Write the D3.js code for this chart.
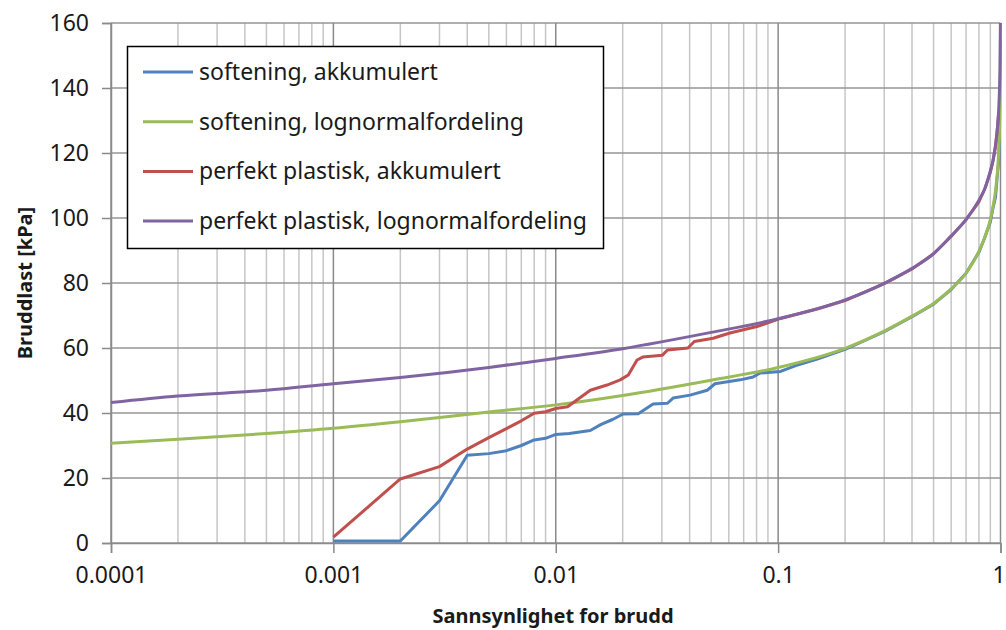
<!DOCTYPE html>
<html>
<head>
<meta charset="utf-8">
<script src="https://cdn.jsdelivr.net/npm/d3@7"></script>
<style>
  html, body { margin: 0; padding: 0; background: #fff; }
  svg { display: block; }
  text { font-family: "Noto Sans", "DejaVu Sans", sans-serif; fill: #1a1a1a; }
</style>
</head>
<body>
<svg id="chart" width="1006" height="630"></svg>
<script>
// Failure probability (x) against failure load in kPa (y)
const softAkkP = [0.001, 0.002, 0.003, 0.004, 0.005, 0.006, 0.007, 0.008, 0.009, 0.01, 0.0115, 0.0143, 0.016, 0.018, 0.0201, 0.0235, 0.0274, 0.0318, 0.0337, 0.0402, 0.048, 0.052, 0.0675, 0.0773, 0.083, 0.1025, 0.12, 0.15, 0.2, 0.3, 0.4, 0.5, 0.6, 0.7, 0.8, 0.85, 0.9, 0.925, 0.95, 0.97, 0.98, 0.99];
const softAkkV = [0.6, 0.6, 13, 27, 27.5, 28.4, 30, 31.7, 32.2, 33.4, 33.7, 34.6, 36.5, 38, 39.7, 39.8, 42.8, 43, 44.6, 45.5, 47, 49, 50.2, 51.1, 52.3, 52.8, 54.6, 56.6, 59.6, 65, 69.6, 73.5, 78, 83, 89.5, 94, 98.8, 103, 106.5, 114, 117, 124];

const softLogP = [0.0001, 0.0002, 0.0005, 0.001, 0.002, 0.005, 0.01, 0.02, 0.05, 0.1, 0.2, 0.3, 0.4, 0.5, 0.6, 0.7, 0.8, 0.85, 0.9, 0.925, 0.95, 0.97, 0.98, 0.99, 0.995, 0.999, 0.9993];
const softLogV = [30.7, 31.9, 33.7, 35.3, 37.3, 40.3, 42.5, 45.4, 50.1, 54.0, 59.9, 65.2, 69.8, 73.7, 78.2, 83.0, 89.8, 94.1, 99.5, 103.4, 108.5, 114.7, 119.5, 127, 135, 151, 155];

const plastAkkP = [0.001, 0.002, 0.003, 0.004, 0.005, 0.006, 0.007, 0.008, 0.009, 0.01, 0.0113, 0.0143, 0.017, 0.0195, 0.0212, 0.0232, 0.0246, 0.0302, 0.0318, 0.0393, 0.042, 0.051, 0.0607, 0.0803, 0.1026, 0.15, 0.2, 0.3, 0.4, 0.5, 0.6, 0.7, 0.8, 0.85, 0.9, 0.925, 0.95, 0.97, 0.98];
const plastAkkV = [1.8, 19.7, 23.5, 28.9, 32.4, 35.2, 37.6, 39.9, 40.4, 41.4, 41.9, 47, 48.6, 50.2, 51.7, 56.3, 57.2, 57.8, 59.4, 60, 62, 63, 64.6, 66.6, 69.1, 72, 74.6, 79.8, 84.3, 89, 94.3, 99.5, 105, 109, 114, 117.5, 122, 128, 132];

const plastLogP = [0.0001, 0.0002, 0.0005, 0.001, 0.002, 0.005, 0.01, 0.02, 0.05, 0.1, 0.2, 0.3, 0.4, 0.5, 0.6, 0.7, 0.8, 0.85, 0.9, 0.925, 0.95, 0.97, 0.98, 0.99, 0.995, 0.999];
const plastLogV = [43.2, 45.2, 47.0, 49.0, 50.9, 54.0, 56.8, 59.8, 64.8, 69.0, 74.8, 79.9, 84.5, 89.0, 94.5, 99.5, 105.5, 109.0, 114.5, 117.7, 122.5, 128.2, 132.5, 140, 147, 160];

const seriesNames = ["softening, akkumulert", "softening, lognormalfordeling", "perfekt plastisk, akkumulert", "perfekt plastisk, lognormalfordeling"];
const seriesColors = ["#4F81BD", "#9BBB59", "#C0504D", "#8064A2"];

const xTicks = [0.0001, 0.001, 0.01, 0.1, 1];
const xTickLabels = ["0.0001", "0.001", "0.01", "0.1", "1"];
const yTicks = [0, 20, 40, 60, 80, 100, 120, 140, 160];

const xTitle = "Sannsynlighet for brudd";
const yTitle = "Bruddlast [kPa]";

// Empirical (accumulated) series are drawn point to point; fitted distributions are smoothed
const series = [
  { name: seriesNames[0], color: seriesColors[0], p: softAkkP, v: softAkkV, smooth: false },
  { name: seriesNames[1], color: seriesColors[1], p: softLogP, v: softLogV, smooth: true },
  { name: seriesNames[2], color: seriesColors[2], p: plastAkkP, v: plastAkkV, smooth: false },
  { name: seriesNames[3], color: seriesColors[3], p: plastLogP, v: plastLogV, smooth: true }
];

const svg = d3.select("#chart");
const plot = { left: 111, right: 1000.5, top: 23, bottom: 543 };

const x = d3.scaleLog().domain([0.0001, 1]).range([plot.left, plot.right]);
const y = d3.scaleLinear().domain([0, 160]).range([plot.bottom, plot.top]);

const grid = svg.append("g");

// Minor vertical gridlines (2..9 within each decade)
const minor = [];
for (let d = -4; d < 0; d++) {
  for (let k = 2; k <= 9; k++) minor.push(k * Math.pow(10, d));
}
grid.selectAll("line.minor").data(minor).join("line")
  .attr("x1", d => x(d)).attr("x2", d => x(d))
  .attr("y1", plot.top).attr("y2", plot.bottom)
  .attr("stroke", "#c6c6c6").attr("stroke-width", 1.5);

// Horizontal gridlines
grid.selectAll("line.h").data(yTicks).join("line")
  .attr("x1", plot.left).attr("x2", plot.right)
  .attr("y1", d => y(d)).attr("y2", d => y(d))
  .attr("stroke", "#969696").attr("stroke-width", 1.5);

// Decade gridlines
grid.selectAll("line.major").data(xTicks).join("line")
  .attr("x1", d => x(d)).attr("x2", d => x(d))
  .attr("y1", plot.top).attr("y2", plot.bottom)
  .attr("stroke", "#8a8a8a").attr("stroke-width", 1.5);

// Y axis
const yAxis = d3.axisLeft(y).tickValues(yTicks).tickSize(9).tickPadding(13).tickFormat(d3.format("d"));
const gy = svg.append("g").attr("transform", `translate(${plot.left},0)`).call(yAxis);
gy.select(".domain").attr("stroke", "#8a8a8a").attr("stroke-width", 1.5);
gy.selectAll(".tick line").attr("stroke", "#8a8a8a").attr("stroke-width", 1.5);
gy.selectAll(".tick text").attr("font-size", 23).attr("fill", "#1a1a1a")
  .attr("font-family", "'Noto Sans', sans-serif");

// X axis
const xAxis = d3.axisBottom(x).tickValues(xTicks).tickSize(10).tickPadding(14)
  .tickFormat((d, i) => xTickLabels[i]);
const gx = svg.append("g").attr("transform", `translate(0,${plot.bottom})`).call(xAxis);
gx.select(".domain").attr("stroke", "#8a8a8a").attr("stroke-width", 1.5);
gx.selectAll(".tick line").attr("stroke", "#8a8a8a").attr("stroke-width", 1.5);
gx.selectAll(".tick text").attr("font-size", 23).attr("fill", "#1a1a1a")
  .attr("font-family", "'Noto Sans', sans-serif")
  .attr("dx", d => (d === 1 ? -2 : 0));

// Series lines
const straight = d3.line().x(d => x(d[0])).y(d => y(d[1]));
const smooth = d3.line().x(d => x(d[0])).y(d => y(d[1])).curve(d3.curveMonotoneX);
svg.append("g").selectAll("path").data(series).join("path")
  .attr("d", s => (s.smooth ? smooth : straight)(d3.zip(s.p, s.v)))
  .attr("fill", "none")
  .attr("stroke", s => s.color)
  .attr("stroke-width", 3)
  .attr("stroke-linejoin", "round");

// Axis titles
svg.append("text")
  .attr("x", 553).attr("y", 623)
  .attr("text-anchor", "middle")
  .attr("font-size", 20).attr("font-weight", "bold")
  .text(xTitle);

svg.append("text")
  .attr("transform", "translate(32,283) rotate(-90)")
  .attr("text-anchor", "middle")
  .attr("font-size", 20).attr("font-weight", "bold")
  .text(yTitle);

// Legend
const legend = svg.append("g");
legend.append("rect")
  .attr("x", 127.5).attr("y", 46.5).attr("width", 476).attr("height", 202)
  .attr("fill", "#fff").attr("stroke", "#000").attr("stroke-width", 1.5);
const rows = legend.selectAll("g.row").data(series).join("g")
  .attr("transform", (d, i) => `translate(0,${72 + i * 49.7})`);
rows.append("line")
  .attr("x1", 143).attr("x2", 193).attr("y1", 0).attr("y2", 0)
  .attr("stroke", d => d.color).attr("stroke-width", 3);
rows.append("text")
  .attr("x", 199).attr("y", 0).attr("dy", "0.35em")
  .attr("font-size", 23)
  .text(d => d.name);
</script>
</body>
</html>
